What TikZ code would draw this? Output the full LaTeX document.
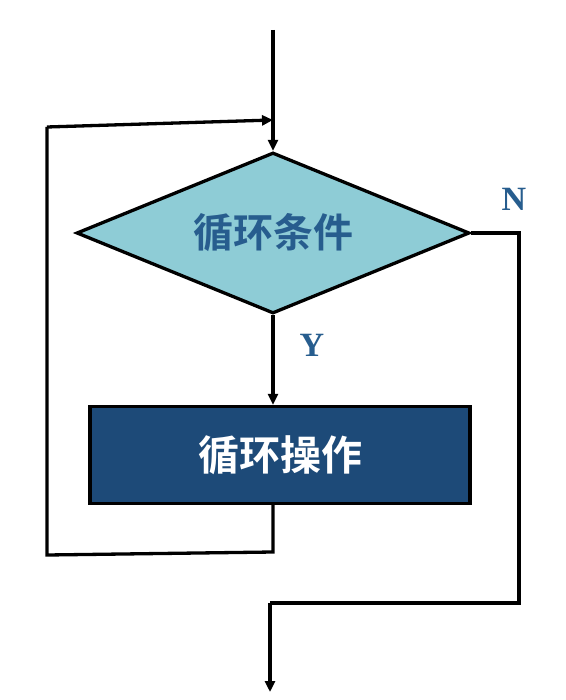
\documentclass[tikz,border=0pt]{standalone}
\usepackage{fontspec}
\newfontfamily\cjk{Noto Sans CJK SC}[BoldFont={* Bold}]
\setmainfont{Liberation Serif}
\usetikzlibrary{shapes.geometric,arrows.meta}
\definecolor{teal1}{HTML}{8ECCD6}
\definecolor{navy1}{HTML}{1D4A78}
\definecolor{txtblue}{HTML}{275D8E}
\begin{document}
\begin{tikzpicture}[x=1pt,y=-1pt,
  line/.style={line width=3.3pt,black},
  arr/.style={line,-{Triangle[length=11pt,width=10pt]}},
  lbl/.style={font=\bfseries\fontsize{34}{34}\selectfont,text=txtblue,inner sep=0pt}]
\useasboundingbox (0,0) rectangle (565,700);
\fill[white] (0,0) rectangle (565,700);
% diamond
\node (d) [draw,line width=3.3pt,fill=teal1,diamond,aspect=2.43,minimum width=393pt,minimum height=161pt,inner sep=0pt,
  text=txtblue,font=\cjk\bfseries\fontsize{40}{40}\selectfont] at (273,233) {循环条件};
% rectangle
\node (r) [draw,line width=3.3pt,fill=navy1,minimum width=380pt,minimum height=97pt,inner sep=0pt,
  text=white,font=\cjk\bfseries\fontsize{41}{41}\selectfont] at (280,455) {循环操作};
\coordinate (top) at (273,30);
\coordinate (j) at (273,120);
\coordinate (l1) at (273,552);
\coordinate (l2) at (47,555);
\coordinate (l3) at (47,127);
\coordinate (n1) at (519,233);
\coordinate (n2) at (519,603);
\coordinate (n3) at (270,603);
\coordinate (out) at (270,692);
\draw[arr] (top) -- (d.north);
\draw[arr] (d.south) -- (r.north -| d.south);
\draw[line] (r.south -| l1) -- (l1) -- (l2) -- (l3);
\draw[arr] (l3) -- (j);
\draw[line] (d.east) -- (n1) -- (n2) -- (n3);
\draw[arr] (n3) -- (out);
\node[lbl] (N) at (514,199) {N};
\node[lbl] (Y) at (312,345) {Y};
\end{tikzpicture}
\end{document}
